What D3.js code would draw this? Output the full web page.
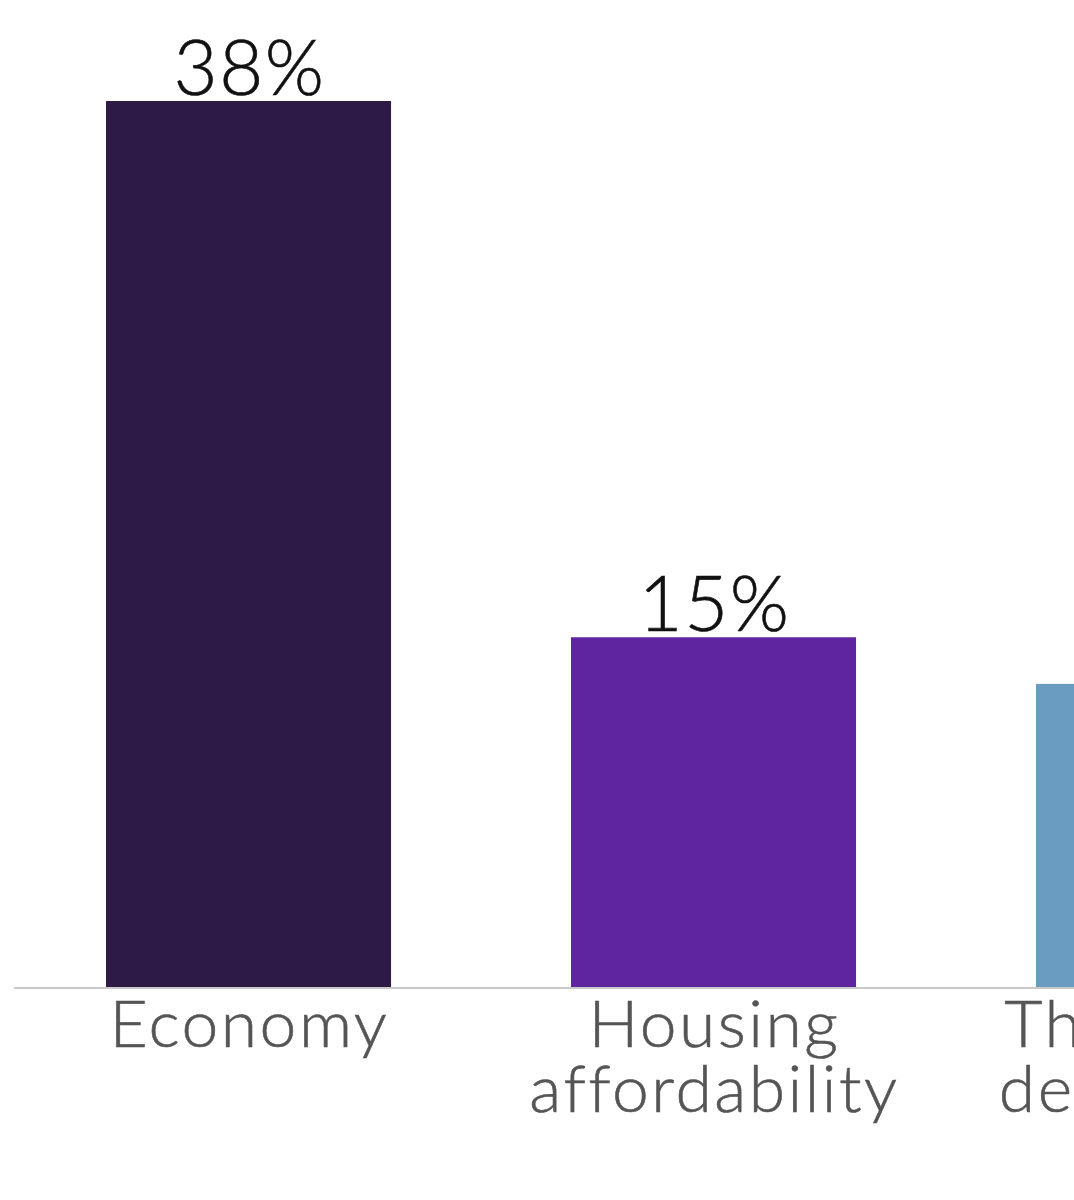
<!DOCTYPE html>
<html>
<head>
<meta charset="utf-8">
<script src="https://cdn.jsdelivr.net/npm/d3@7"></script>
<style>
  html, body { margin: 0; padding: 0; background: #fff; overflow: hidden; }
  svg { display: block; }
</style>
</head>
<body>
<svg id="chart" width="1074" height="1200"></svg>
<script>
const categories = ["Economy", "Housing affordability", "The budget deficit/debt"];
const labelLines = [["Economy"], ["Housing", "affordability"], ["The budget", "deficit/debt"]];
const values = [38, 15, 13];
const colors = ["#2e1a47", "#5f249f", "#6a9bc0"];

const svg = d3.select("#chart");
const baseY = 987;
const x = d3.scaleBand()
  .domain(categories)
  .range([106, 106 + 465 * (3 - 0.387)])
  .paddingInner(0.387)
  .paddingOuter(0);
const y = d3.scaleLinear().domain([0, 38]).range([baseY, 101]);

svg.append("g").selectAll("rect")
  .data(categories)
  .join("rect")
  .attr("x", d => x(d))
  .attr("y", (d, i) => y(values[i]))
  .attr("width", x.bandwidth())
  .attr("height", (d, i) => baseY - y(values[i]))
  .attr("fill", (d, i) => colors[i]);

svg.append("line")
  .attr("x1", 14).attr("x2", 1074)
  .attr("y1", baseY + 1).attr("y2", baseY + 1)
  .attr("stroke", "#c9c9c9").attr("stroke-width", 2);

svg.append("g").selectAll("text")
  .data(categories)
  .join("text")
  .attr("x", d => x(d) + x.bandwidth() / 2 + 1)
  .attr("y", (d, i) => y(values[i]) - 6)
  .attr("text-anchor", "middle")
  .attr("font-family", "Lato, 'Noto Sans', sans-serif")
  .attr("font-size", 76)
  .attr("font-weight", 300)
  .attr("letter-spacing", 1.5)
  .attr("fill", "#111")
  .attr("stroke", "#111")
  .attr("stroke-width", 0.6)
  .text((d, i) => values[i] + "%");

const lab = svg.append("g").selectAll("text")
  .data(categories)
  .join("text")
  .attr("y", 1047)
  .attr("text-anchor", "middle")
  .attr("font-family", "Lato, 'Noto Sans', sans-serif")
  .attr("font-size", 66)
  .attr("font-weight", 300)
  .attr("letter-spacing", 2.5)
  .attr("fill", "#555")
  .attr("stroke", "#555")
  .attr("stroke-width", 0.6);
lab.each(function(d, i) {
  d3.select(this).selectAll("tspan")
    .data(labelLines[i])
    .join("tspan")
    .attr("x", x(d) + x.bandwidth() / 2 + 1)
    .attr("dy", (t, j) => j === 0 ? 0 : 65)
    .text(t => t);
});
</script>
</body>
</html>
